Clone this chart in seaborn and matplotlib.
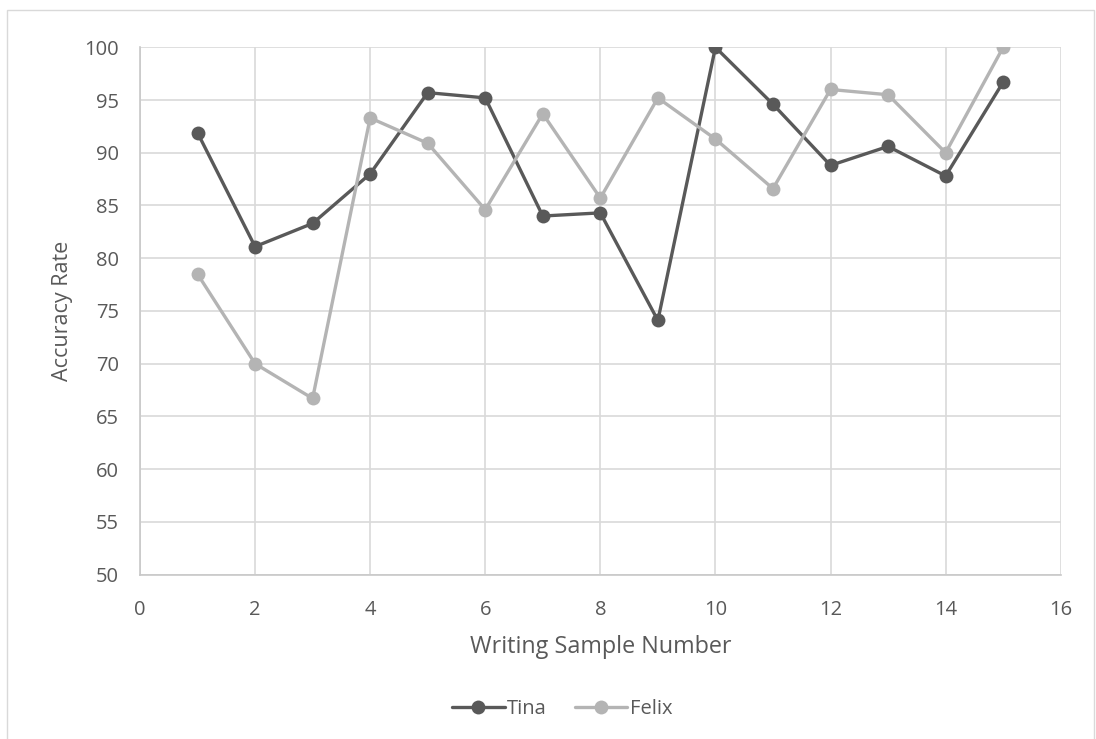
import matplotlib
matplotlib.use("Agg")
import matplotlib.pyplot as plt
import matplotlib.patches as mpatches
import numpy as np
import pandas as pd
import seaborn as sns

# Writing sample numbers and accuracy rates per student
samples = list(range(1, 16))
tina = [91.9, 81.1, 83.3, 88.0, 95.7, 95.2, 84.0, 84.3, 74.1, 100.0, 94.6, 88.8, 90.6, 87.8, 96.7]
felix = [78.5, 70.0, 66.7, 93.3, 90.9, 84.6, 93.7, 85.7, 95.2, 91.3, 86.6, 96.0, 95.5, 90.0, 100.0]
students = ["Tina", "Felix"]
x_ticks = [0, 2, 4, 6, 8, 10, 12, 14, 16]
y_ticks = [50, 55, 60, 65, 70, 75, 80, 85, 90, 95, 100]

df = pd.DataFrame({
    "Writing Sample Number": samples * 2,
    "Accuracy Rate": tina + felix,
    "Student": ["Tina"] * len(tina) + ["Felix"] * len(felix),
})

sns.set_theme(style="white")
plt.rcParams["font.family"] = ["Open Sans", "DejaVu Sans"]

text_color = "#595959"
grid_color = "#d9d9d9"
palette = {"Tina": "#595959", "Felix": "#b4b4b4"}

fig = plt.figure(figsize=(10.96, 7.39), dpi=100)
ax = fig.add_axes([0.1277, 0.2225, 0.8401, 0.7135])

sns.lineplot(
    data=df, x="Writing Sample Number", y="Accuracy Rate", hue="Student",
    hue_order=students, palette=palette, marker="o", markersize=10,
    markeredgewidth=0, linewidth=2.4, ax=ax, legend=False, zorder=3,
)

ax.set_xlim(0, 16)
ax.set_ylim(50, 100)
ax.set_xticks(x_ticks)
ax.set_yticks(y_ticks)
ax.grid(True, color=grid_color, linewidth=1.2, zorder=0)
ax.set_axisbelow(True)
for side in ["top", "right"]:
    ax.spines[side].set_visible(False)
for side in ["left", "bottom"]:
    ax.spines[side].set_color("#c8c8c8")
    ax.spines[side].set_linewidth(1.2)
ax.tick_params(axis="both", length=0, labelsize=14.5, labelcolor=text_color)
ax.tick_params(axis="x", pad=18)
ax.tick_params(axis="y", pad=15)
ax.set_xlabel("Writing Sample Number", fontsize=16.8, color=text_color, labelpad=11)
ax.set_ylabel("Accuracy Rate", fontsize=15.5, color=text_color, labelpad=8)

handles = [
    plt.Line2D([], [], color=palette[s], marker="o", markersize=10,
               markeredgewidth=0, linewidth=2.4, label=s)
    for s in students
]
fig.legend(
    handles=handles, loc="center", bbox_to_anchor=(0.513, 0.040), ncol=2,
    frameon=False, fontsize=14.5, labelcolor=text_color, handlelength=2.6,
    handletextpad=0.12, columnspacing=1.4,
)

# Light chart-area border
fig.patches.append(mpatches.Rectangle(
    (7 / 1096, -0.05), (1094 - 7) / 1096, 1 - 10 / 739 + 0.05,
    transform=fig.transFigure, fill=False, edgecolor="#d9d9d9", linewidth=1.0,
))

fig.savefig("out.png", dpi=100, facecolor="white")
